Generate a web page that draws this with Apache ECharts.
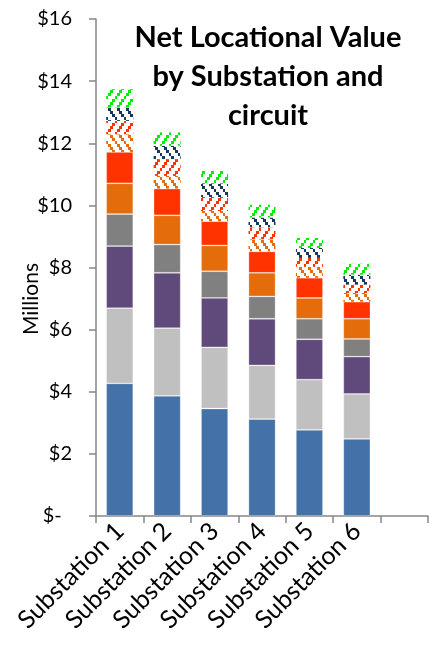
<!DOCTYPE html>
<html>
<head>
<meta charset="utf-8">
<script src="https://cdn.jsdelivr.net/npm/echarts@6/dist/echarts.min.js"></script>
<style>
  html, body { margin: 0; padding: 0; background: #fff; }
  #chart { width: 432px; height: 649px; }
</style>
</head>
<body>
<div id="chart"></div>
<script>
// Categories along the x axis (last slot is intentionally empty)
const categories = ['Substation 1', 'Substation 2', 'Substation 3', 'Substation 4', 'Substation 5', 'Substation 6', ''];

// Stacked components, in $ millions, bottom to top
const blueVals     = [4.27, 3.87, 3.46, 3.12, 2.77, 2.48];
const lightGrayVals= [2.42, 2.18, 1.97, 1.73, 1.62, 1.45];
const purpleVals   = [2.00, 1.78, 1.59, 1.50, 1.30, 1.20];
const darkGrayVals = [1.03, 0.91, 0.86, 0.72, 0.66, 0.57];
const orangeVals   = [0.99, 0.94, 0.83, 0.76, 0.67, 0.65];
const redVals      = [1.01, 0.86, 0.78, 0.69, 0.65, 0.55];
const orangeHatchVals = [0.57, 0.41, 0.33, 0.39, 0.35, 0.28];
const redHatchVals    = [0.43, 0.54, 0.45, 0.38, 0.29, 0.27];
const navyHatchVals   = [0.43, 0.43, 0.42, 0.32, 0.32, 0.32];
const greenHatchVals  = [0.59, 0.43, 0.42, 0.41, 0.32, 0.35];

// Y axis ticks
const yMin = 0, yMax = 16, yStep = 2;

const FONT = 'Lato, "Open Sans", sans-serif';

// Dotted diagonal hatch tile on white; dir = 1 for "/", -1 for "\"
function hatch(color, dir) {
  const w = 9, h = 12;
  const c = document.createElement('canvas');
  c.width = w; c.height = h;
  const g = c.getContext('2d');
  g.fillStyle = '#ffffff';
  g.fillRect(0, 0, w, h);
  g.fillStyle = color;
  const n = 4;
  for (let i = 0; i < n; i++) {
    const t = (i + 0.5) / n;
    const x = dir > 0 ? t * w : (1 - t) * w;
    const y = h - t * h;
    g.fillRect(Math.round(x - 1.3), Math.round(y - 1.3), 3, 3);
  }
  return { image: c, repeat: 'repeat' };
}

function solid(name, data, color) {
  return {
    name, type: 'bar', stack: 'total', data, barWidth: '57%',
    itemStyle: { color, borderColor: 'rgba(255,255,255,0.35)', borderWidth: 0.8 }
  };
}
function hatched(name, data, color, dir) {
  return {
    name, type: 'bar', stack: 'total', data, barWidth: '57%',
    itemStyle: { color: hatch(color, dir) }
  };
}

const chart = echarts.init(document.getElementById('chart'), null, { renderer: 'canvas' });
chart.setOption({
  animation: false,
  backgroundColor: '#ffffff',
  grid: { left: 96, right: 4, top: 19, bottom: 133, containLabel: false },
  graphic: [{
    type: 'text', x: 268, y: 18,
    style: {
      text: 'Net Locational Value\nby Substation and\ncircuit',
      textAlign: 'center', textVerticalAlign: 'top',
      font: 'bold 29px ' + FONT, lineHeight: 39, fill: '#000'
    }
  }, {
    // Unit caption beside the value axis
    type: 'text', x: 31, y: 299, rotation: Math.PI / 2,
    style: {
      text: 'Millions', textAlign: 'center', textVerticalAlign: 'middle',
      font: '21px ' + FONT, fill: '#000'
    }
  }],
  xAxis: {
    type: 'category', data: categories, boundaryGap: true,
    axisLine: { lineStyle: { color: '#868686', width: 1.5 } },
    axisTick: { show: true, length: 7, lineStyle: { color: '#868686', width: 1.5 } },
    axisLabel: { rotate: 45, interval: 0, margin: 11, color: '#000', fontSize: 25, fontFamily: FONT }
  },
  yAxis: {
    type: 'value', min: yMin, max: yMax, interval: yStep,
    splitLine: { show: false },
    axisLine: { show: true, lineStyle: { color: '#868686', width: 1.5 } },
    axisTick: { show: true, length: 7, lineStyle: { color: '#868686', width: 1.5 } },
    axisLabel: {
      margin: 24, color: '#000', fontSize: 20, fontFamily: FONT,
      formatter: v => v === 0 ? '$-  ' : '$' + v
    }
  },
  series: [
    solid('Component 1', blueVals, '#4472A8'),
    solid('Component 2', lightGrayVals, '#C0C0C0'),
    solid('Component 3', purpleVals, '#604A7B'),
    solid('Component 4', darkGrayVals, '#808080'),
    solid('Component 5', orangeVals, '#E46C0A'),
    solid('Component 6', redVals, '#FF3300'),
    hatched('Component 7', orangeHatchVals, '#E46C0A', -1),
    hatched('Component 8', redHatchVals, '#FF3300', 1),
    hatched('Component 9', navyHatchVals, '#17375E', -1),
    hatched('Component 10', greenHatchVals, '#00EE00', 1)
  ]
});
</script>
</body>
</html>
